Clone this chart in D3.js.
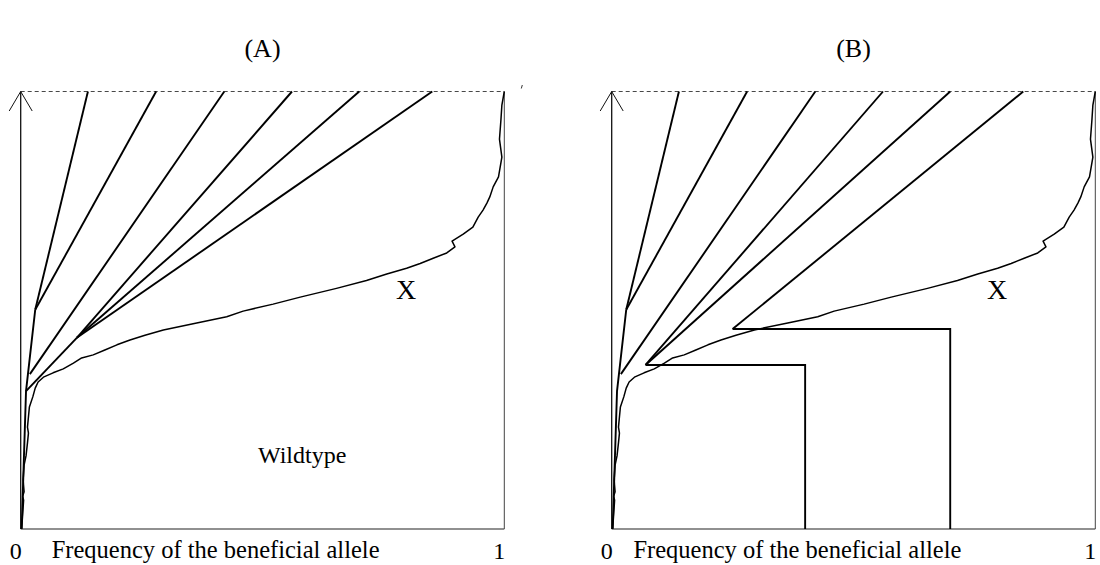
<!DOCTYPE html>
<html>
<head>
<meta charset="utf-8">
<script src="https://cdn.jsdelivr.net/npm/d3@7"></script>
<style>
  body { margin: 0; background: #fff; }
  text { font-family: "Liberation Serif", "DejaVu Serif", serif; fill: #000; }
</style>
</head>
<body>
<div id="container"></div>
<script>
// panel titles
var panelTitles = ['(A)', '(B)'];
var xTickLabels = ['0', '1'];
var xAxisLabel = 'Frequency of the beneficial allele';

// wildtype / mutant trajectory (frequency, time), same in both panels
var curveFreq = [0.002,0.004,0.006,0.004,0.007,0.005,0.007,0.011,0.014,0.016,0.014,0.016,0.018,0.025,0.030,0.036,0.047,0.067,0.088,0.109,0.126,0.150,0.174,0.199,0.226,0.257,0.295,0.364,0.426,0.460,0.522,0.578,0.653,0.715,0.757,0.798,0.826,0.853,0.881,0.898,0.892,0.915,0.935,0.946,0.956,0.964,0.970,0.977,0.988,0.995,0.990,0.993,0.995,1.000];
var curveTime = [0.001,0.032,0.066,0.075,0.085,0.112,0.146,0.167,0.197,0.219,0.233,0.256,0.279,0.302,0.322,0.336,0.347,0.357,0.366,0.379,0.391,0.398,0.409,0.421,0.432,0.443,0.455,0.471,0.485,0.498,0.514,0.530,0.550,0.568,0.583,0.596,0.607,0.619,0.631,0.645,0.658,0.674,0.690,0.713,0.729,0.745,0.759,0.782,0.805,0.850,0.891,0.935,0.969,1.000];

// trunk of the genealogy
var trunkFreq = [0.002, 0.011, 0.030];
var trunkTime = [0.000, 0.315, 0.501];

// lineages reaching the top (frequency where they hit time = 1)
var lineTopFreq = [0.139, 0.280, 0.421, 0.561, 0.700, 0.851];
// start of each lineage, panel A
var startFreqA = [0.030, 0.030, 0.019, 0.116, 0.116, 0.116];
var startTimeA = [0.501, 0.501, 0.354, 0.437, 0.437, 0.437];
// start of each lineage, panel B
var startFreqB = [0.030, 0.030, 0.019, 0.070, 0.070, 0.250];
var startTimeB = [0.501, 0.501, 0.354, 0.375, 0.375, 0.457];

// boxes in panel B: tip of box (left), right edge, top time
var boxTipFreq = [0.070, 0.250];
var boxRightFreq = [0.400, 0.700];
var boxTopTime = [0.375, 0.457];

var width = 1100, height = 565;
var svg = d3.select('#container').append('svg')
  .attr('width', width).attr('height', height)
  .style('background-color', 'white');

var plotW = 483.6;
var yScale = d3.scaleLinear().domain([0, 1]).range([529, 91.5]);

function drawPanel(x0, idx) {
  var xScale = d3.scaleLinear().domain([0, 1]).range([x0, x0 + plotW]);
  var g = svg.append('g');
  var line = d3.line().x(d => xScale(d[0])).y(d => yScale(d[1]));

  // frame: bottom, right, dashed top
  g.append('line')
    .attr('x1', xScale(0)).attr('x2', xScale(1))
    .attr('y1', yScale(0)).attr('y2', yScale(0))
    .attr('stroke', '#222').attr('stroke-width', 1.2);
  g.append('line')
    .attr('x1', xScale(1)).attr('x2', xScale(1))
    .attr('y1', yScale(0)).attr('y2', yScale(1))
    .attr('stroke', '#444').attr('stroke-width', 1);
  g.append('line')
    .attr('x1', xScale(0)).attr('x2', xScale(1))
    .attr('y1', yScale(1)).attr('y2', yScale(1))
    .attr('stroke', '#333').attr('stroke-width', 0.9)
    .attr('stroke-dasharray', '4,3');

  // vertical axis with open arrow
  g.append('line')
    .attr('x1', xScale(0)).attr('x2', xScale(0))
    .attr('y1', yScale(0)).attr('y2', yScale(1))
    .attr('stroke', '#111').attr('stroke-width', 1.3);
  g.append('path')
    .attr('d', 'M' + (xScale(0) - 11.5) + ',' + (yScale(1) + 19.5) + 'L' + xScale(0) + ',' + yScale(1) +
               'L' + (xScale(0) + 11.5) + ',' + (yScale(1) + 19.5))
    .attr('fill', 'none').attr('stroke', '#111').attr('stroke-width', 1);

  // trajectory
  g.append('path')
    .datum(curveFreq.map((f, i) => [f, curveTime[i]]))
    .attr('d', line)
    .attr('fill', 'none').attr('stroke', '#000').attr('stroke-width', 1.5)
    .attr('stroke-linejoin', 'round');

  // trunk
  g.append('path')
    .datum(trunkFreq.map((f, i) => [f, trunkTime[i]]))
    .attr('d', line)
    .attr('fill', 'none').attr('stroke', '#000').attr('stroke-width', 1.9);

  var sf = idx === 0 ? startFreqA : startFreqB;
  var st = idx === 0 ? startTimeA : startTimeB;
  g.selectAll('.lineage')
    .data(lineTopFreq)
    .enter().append('line')
    .attr('class', 'lineage')
    .attr('x1', (d, i) => xScale(sf[i])).attr('y1', (d, i) => yScale(st[i]))
    .attr('x2', d => xScale(d)).attr('y2', yScale(1))
    .attr('stroke', '#000').attr('stroke-width', 1.9);

  if (idx === 0) {
    // connection trunk -> fan node
    g.append('line')
      .attr('x1', xScale(trunkFreq[1])).attr('y1', yScale(trunkTime[1]))
      .attr('x2', xScale(startFreqA[3])).attr('y2', yScale(startTimeA[3]))
      .attr('stroke', '#000').attr('stroke-width', 1.9);
    g.append('text')
      .attr('x', xScale(0.582)).attr('y', 463)
      .attr('text-anchor', 'middle').attr('font-size', 24)
      .text('Wildtype');
    // small stray mark at top right
    g.append('line')
      .attr('x1', xScale(1) + 17).attr('y1', 88.5)
      .attr('x2', xScale(1) + 18).attr('y2', 85)
      .attr('stroke', '#333').attr('stroke-width', 1);
  } else {
    g.selectAll('.box')
      .data(boxTipFreq)
      .enter().append('path')
      .attr('class', 'box')
      .attr('d', (d, i) => 'M' + xScale(d) + ',' + yScale(boxTopTime[i]) +
        'L' + xScale(boxRightFreq[i]) + ',' + yScale(boxTopTime[i]) +
        'L' + xScale(boxRightFreq[i]) + ',' + yScale(0))
      .attr('fill', 'none').attr('stroke', '#000').attr('stroke-width', 1.9);
  }

  // mutant label
  g.append('text')
    .attr('x', xScale(0.797)).attr('y', 299)
    .attr('text-anchor', 'middle').attr('font-size', 28)
    .text('X');

  // title
  g.append('text')
    .attr('x', xScale(0.5)).attr('y', 57)
    .attr('text-anchor', 'middle').attr('font-size', 26)
    .text(panelTitles[idx]);

  // x labels
  g.append('text')
    .attr('x', xScale(0) - 5).attr('y', 559)
    .attr('text-anchor', 'middle').attr('font-size', 24)
    .text(xTickLabels[0]);
  g.append('text')
    .attr('x', xScale(1) - 5).attr('y', 559)
    .attr('text-anchor', 'middle').attr('font-size', 24)
    .text(xTickLabels[1]);
  g.append('text')
    .attr('x', xScale(idx === 0 ? 0.403 : 0.384)).attr('y', 558)
    .attr('text-anchor', 'middle').attr('font-size', 24.5)
    .text(xAxisLabel);
}

drawPanel(20.7, 0);
drawPanel(611.7, 1);
</script>
</body>
</html>
